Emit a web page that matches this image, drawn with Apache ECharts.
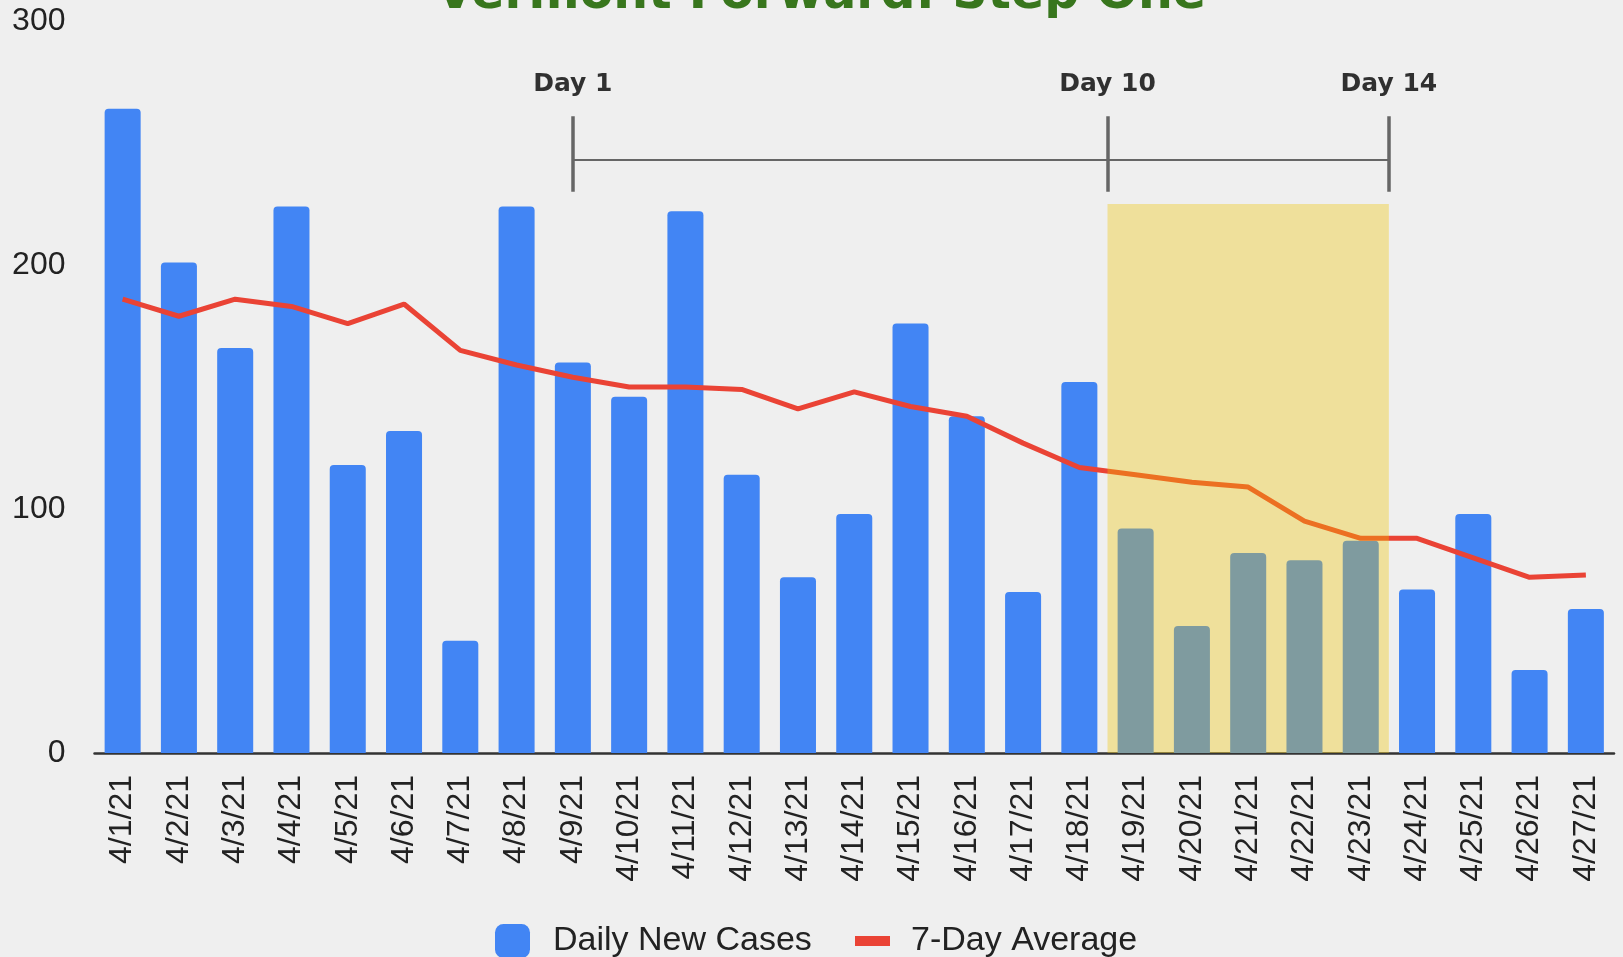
<!DOCTYPE html>
<html>
<head>
<meta charset="utf-8">
<title>Vermont Forward: Step One</title>
<script src="https://cdn.jsdelivr.net/npm/echarts@6/dist/echarts.min.js"></script>
<style>
  html, body { margin: 0; padding: 0; background: #efefef; }
  #show { width: 1623px; height: 957px; }
</style>
</head>
<body>
<div id="show"></div>
<script>
// dates (x axis)
var dates = ['4/1/21','4/2/21','4/3/21','4/4/21','4/5/21','4/6/21','4/7/21','4/8/21','4/9/21',
  '4/10/21','4/11/21','4/12/21','4/13/21','4/14/21','4/15/21','4/16/21','4/17/21','4/18/21',
  '4/19/21','4/20/21','4/21/21','4/22/21','4/23/21','4/24/21','4/25/21','4/26/21','4/27/21'];
// daily new cases (bars)
var dailyCases = [264,201,166,224,118,132,46,224,160,146,222,114,72,98,176,138,66,152,
  92,52,82,79,87,67,98,34,59];
// 7-day average (line)
var sevenDayAvg = [186,179,186,183,176,184,165,159,154,150,150,149,141,148,142,138,127,117,
  114,111,109,95,88,88,80,72,73];
// y axis ticks
var yTicks = [0, 100, 200, 300];

// markers over the chart, position = category index (x.5 = between two days)
var dayNames = ['Day 1', 'Day 10', 'Day 14'];
var dayPos = [8, 17.5, 22.5];
var labelLevel = 274;     // where the Day labels sit (y value)
var bracketLevel = 243;   // horizontal bracket line
var tickRange = [230, 261];
// highlighted step one window
var highlightRange = [17.5, 22.5];
var highlightTop = 225;

var myChart = echarts.init(document.getElementById('show'));

var tickLines = [];
for (var i = 0; i < dayPos.length; i++) {
  tickLines.push({ coords: [[dayPos[i], tickRange[0]], [dayPos[i], tickRange[1]]] });
}
var bracketLine = [{ coords: [[dayPos[0], bracketLevel], [dayPos[dayPos.length - 1], bracketLevel]] }];
var dayLabels = [];
for (var j = 0; j < dayPos.length; j++) {
  dayLabels.push([dayPos[j], labelLevel, dayNames[j]]);
}

myChart.setOption({
  backgroundColor: '#efefef',
  animation: false,
  graphic: [{
    type: 'text',
    x: 821,
    y: -5,
    style: {
      text: 'Vermont Forward: Step One',
      font: 'bold 49px "DejaVu Sans"',
      fill: '#38761d',
      align: 'center',
      verticalAlign: 'middle'
    }
  }],
  grid: {
    left: 94.5,
    right: 9,
    top: 21,
    bottom: 204,
    outerBoundsMode: 'none'
  },
  legend: [{
    data: ['Daily New Cases'],
    left: 495,
    top: 924,
    padding: 0,
    icon: 'roundRect',
    itemWidth: 35,
    itemHeight: 34,
    textStyle: { fontSize: 34, color: '#222', fontFamily: 'Liberation Sans', padding: [0, 0, 0, 18] }
  }, {
    data: ['7-Day Average'],
    left: 855,
    top: 924,
    padding: 0,
    icon: 'rect',
    itemWidth: 35,
    itemHeight: 10,
    textStyle: { fontSize: 34, color: '#222', fontFamily: 'Liberation Sans', padding: [0, 0, 0, 16] }
  }],
  xAxis: [{
    type: 'category',
    data: dates,
    axisTick: { show: false },
    axisLine: { lineStyle: { color: '#333', width: 2.5 } },
    axisLabel: {
      rotate: 90,
      interval: 0,
      margin: 22,
      fontSize: 32,
      color: '#222',
      fontFamily: 'Liberation Sans'
    }
  }, {
    // helper axis for the markers, same span as the category bands
    type: 'value',
    min: -0.5,
    max: dates.length - 0.5,
    show: false
  }],
  yAxis: {
    type: 'value',
    min: yTicks[0],
    max: yTicks[yTicks.length - 1],
    interval: yTicks[1] - yTicks[0],
    splitLine: { show: false },
    axisLine: { show: false },
    axisTick: { show: false },
    axisLabel: { fontSize: 32, color: '#222', margin: 29, fontFamily: 'Liberation Sans' }
  },
  series: [{
    name: 'Daily New Cases',
    type: 'bar',
    data: dailyCases,
    barWidth: '64%',
    z: 2,
    itemStyle: { color: '#4285f4', borderRadius: [4, 4, 0, 0] }
  }, {
    name: '7-Day Average',
    type: 'line',
    data: sevenDayAvg,
    symbol: 'none',
    z: 3,
    itemStyle: { color: '#ea4335' },
    lineStyle: { color: '#ea4335', width: 5 }
  }, {
    name: 'highlight',
    type: 'line',
    xAxisIndex: 1,
    data: [[highlightRange[0], highlightTop], [highlightRange[1], highlightTop]],
    symbol: 'none',
    silent: true,
    z: 6,
    lineStyle: { width: 0, opacity: 0 },
    areaStyle: { color: 'rgba(242,199,0,0.35)', opacity: 1 }
  }, {
    name: 'bracket',
    type: 'lines',
    coordinateSystem: 'cartesian2d',
    xAxisIndex: 1,
    data: bracketLine,
    silent: true,
    z: 7,
    lineStyle: { color: '#666', width: 2, opacity: 1 }
  }, {
    name: 'ticks',
    type: 'lines',
    coordinateSystem: 'cartesian2d',
    xAxisIndex: 1,
    data: tickLines,
    silent: true,
    z: 7,
    lineStyle: { color: '#666', width: 3.5, opacity: 1 }
  }, {
    name: 'days',
    type: 'scatter',
    xAxisIndex: 1,
    data: dayLabels,
    symbolSize: 0,
    silent: true,
    z: 8,
    label: {
      show: true,
      position: 'inside',
      formatter: function (p) { return p.value[2]; },
      fontFamily: 'DejaVu Sans',
      fontWeight: 'bold',
      fontSize: 25,
      color: '#000'
    }
  }]
});
</script>
</body>
</html>
